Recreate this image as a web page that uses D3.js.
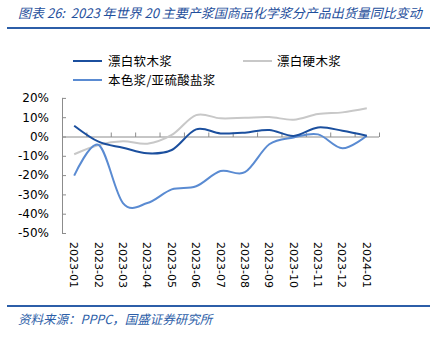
<!DOCTYPE html>
<html><head><meta charset="utf-8">
<script src="https://cdn.jsdelivr.net/npm/d3@7"></script>
<style>
html,body{margin:0;padding:0;background:#fff;}
svg{display:block;}
</style></head>
<body>
<svg id="c" width="436" height="341"></svg>
<script>
const categories = ["2023-01","2023-02","2023-03","2023-04","2023-05","2023-06","2023-07","2023-08","2023-09","2023-10","2023-11","2023-12","2024-01"];
const softwood = [5.6, -2.7, -5.8, -8.7, -7.0, 3.7, 1.6, 2.0, 3.4, 0.3, 4.7, 3.0, 0.4];
const hardwood = [-9.2, -4.4, -2.5, -3.7, 0.8, 11.1, 9.4, 9.7, 10.1, 8.7, 11.6, 12.5, 14.6];
const unbleached = [-20.3, -4.4, -34.5, -34.5, -27.4, -25.8, -17.9, -18.5, -4.0, -0.5, 1.1, -6.1, 0.4];
const seriesNames = ["漂白软木浆", "漂白硬木浆", "本色浆/亚硫酸盐浆"];
const yTicks = [20, 10, 0, -10, -20, -30, -40, -50];
const titleText = "图表 26:  2023 年世界 20 主要产浆国商品化学浆分产品出货量同比变动";
const sourceText = "资料来源：PPPC，国盛证券研究所";

const colors = ["#1b4f9e", "#c8c8c8", "#5a8bd2"];
const svg = d3.select("#c");
const cjk = "'Noto Sans CJK SC', sans-serif";

// title
svg.append("text").attr("x", 18).attr("y", 18)
  .attr("font-family", cjk).attr("font-size", 13).attr("font-style", "italic")
  .attr("fill", "#1f4f9c").attr("xml:space", "preserve").style("white-space", "pre").text(titleText);
svg.append("line").attr("x1", 7).attr("x2", 430).attr("y1", 28).attr("y2", 28)
  .attr("stroke", "#2c5ea8").attr("stroke-width", 2);

// scales
const x = d3.scaleBand().domain(categories).range([62, 379]);
const y = d3.scaleLinear().domain([-50, 20]).range([233, 97.9]);

// y axis
const yAxis = svg.append("g").attr("transform", "translate(62,0)")
  .call(d3.axisRight(y).tickValues(yTicks).tickSize(4).tickFormat(""));
yAxis.select(".domain").attr("stroke", "#8c8c8c").attr("d", `M0.5,${y(20)}V${y(-50)}`);
yAxis.selectAll(".tick line").attr("stroke", "#8c8c8c");
svg.append("g").selectAll("text").data(yTicks).join("text")
  .attr("x", 49).attr("y", d => y(d)).attr("dy", "0.36em")
  .attr("text-anchor", "end").attr("font-family", "'DejaVu Sans', sans-serif")
  .attr("font-size", 12).attr("fill", "#000").text(d => d + "%");

// x axis on zero line
const boundaries = categories.map(c => x(c)).concat([x.range()[1]]);
const xg = svg.append("g").attr("transform", `translate(0,${y(0)})`);
xg.append("line").attr("x1", 62).attr("x2", 379).attr("y1", 0.5).attr("y2", 0.5)
  .attr("stroke", "#8c8c8c");
xg.selectAll("line.t").data(boundaries.slice(1)).join("line").attr("class", "t")
  .attr("x1", d => d + 0.5).attr("x2", d => d + 0.5).attr("y1", 0.5).attr("y2", -4)
  .attr("stroke", "#8c8c8c");

// x labels rotated
svg.append("g").selectAll("text").data(categories).join("text")
  .attr("transform", d => `translate(${x(d) + x.bandwidth() / 2},242) rotate(90)`)
  .attr("dy", "0.36em").attr("font-family", "'DejaVu Sans', sans-serif")
  .attr("font-size", 11).attr("fill", "#000").text(d => d);

// lines
const line = d3.line().x((d, i) => x(categories[i]) + x.bandwidth() / 2).y(d => y(d))
  .curve(d3.curveCardinal.tension(0));
[hardwood, unbleached, softwood].forEach((s, k) => {
  const idx = [1, 2, 0][k];
  svg.append("path").attr("d", line(s)).attr("fill", "none")
    .attr("stroke", colors[idx]).attr("stroke-width", 2);
});

// legend
const leg = [{i: 0, lx: 73, ly: 61, tx: 108}, {i: 1, lx: 243, ly: 61, tx: 277}, {i: 2, lx: 73, ly: 80, tx: 108}];
leg.forEach(l => {
  svg.append("line").attr("x1", l.lx).attr("x2", l.lx + 29).attr("y1", l.ly).attr("y2", l.ly)
    .attr("stroke", colors[l.i]).attr("stroke-width", 2);
  svg.append("text").attr("x", l.tx).attr("y", l.ly).attr("dy", "0.36em")
    .attr("font-family", cjk).attr("font-size", 12.5).attr("letter-spacing", 0.3).attr("fill", "#000")
    .text(seriesNames[l.i]);
});

// bottom
svg.append("line").attr("x1", 7).attr("x2", 430).attr("y1", 306).attr("y2", 306)
  .attr("stroke", "#2c5ea8").attr("stroke-width", 2);
svg.append("text").attr("x", 18).attr("y", 319).attr("dy", "0.36em")
  .attr("font-family", cjk).attr("font-size", 12.5).attr("font-style", "italic")
  .attr("fill", "#2c5ea8").text(sourceText);
</script>
</body></html>
